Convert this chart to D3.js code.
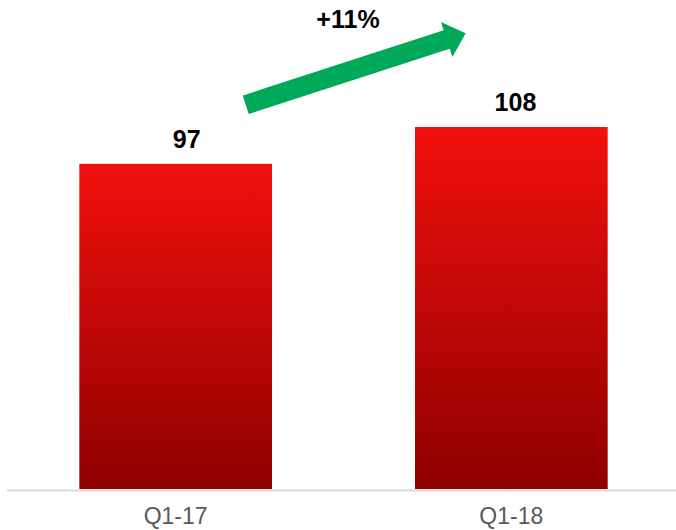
<!DOCTYPE html>
<html>
<head>
<meta charset="utf-8">
<script src="https://cdn.jsdelivr.net/npm/d3@7"></script>
<style>
  body { margin: 0; background: #fff; }
  svg { display: block; font-family: "Liberation Sans", Arial, sans-serif; }
</style>
</head>
<body>
<div id="chart"></div>
<script>
const categories = ["Q1-17", "Q1-18"];
const values = [97, 108];
const growthLabel = "+11%";

const width = 676,
  height = 530;

const svg = d3
  .select("#chart")
  .append("svg")
  .attr("width", width)
  .attr("height", height);

const defs = svg.append("defs");
const grad = defs
  .append("linearGradient")
  .attr("id", "barGrad")
  .attr("x1", 0)
  .attr("y1", 0)
  .attr("x2", 0)
  .attr("y2", 1);
grad.append("stop").attr("offset", "0%").attr("stop-color", "#f2100d");
grad.append("stop").attr("offset", "100%").attr("stop-color", "#8e0000");

const x = d3
  .scaleBand()
  .domain(categories)
  .range([8, 679])
  .paddingInner(0.426)
  .paddingOuter(0.2125);

const y = d3.scaleLinear().domain([0, 108]).range([489, 127]);

// baseline
svg
  .append("line")
  .attr("x1", 7)
  .attr("x2", width)
  .attr("y1", y(0) + 1.5)
  .attr("y2", y(0) + 1.5)
  .attr("stroke", "#d9d9d9")
  .attr("stroke-width", 2);

// bars
svg
  .append("g")
  .selectAll("rect")
  .data(values)
  .enter()
  .append("rect")
  .attr("x", (d, i) => x(categories[i]))
  .attr("y", (d) => y(d))
  .attr("width", x.bandwidth())
  .attr("height", (d) => y(0) - y(d))
  .attr("fill", "url(#barGrad)");

// value labels
svg
  .append("g")
  .selectAll("text")
  .data(values)
  .enter()
  .append("text")
  .attr("x", (d, i) => x(categories[i]) + x.bandwidth() / 2 + 25)
  .attr("y", (d) => y(d) - 16)
  .attr("text-anchor", "end")
  .style("font-size", "25px")
  .style("font-weight", "bold")
  .attr("fill", "#000")
  .text((d) => d);

// category labels
svg
  .append("g")
  .selectAll("text")
  .data(categories)
  .enter()
  .append("text")
  .attr("x", (d) => x(d) + x.bandwidth() / 2)
  .attr("y", 524)
  .attr("text-anchor", "middle")
  .style("font-size", "23px")
  .attr("fill", "#595959")
  .text((d) => d);

// growth arrow
const tail = [245.75, 104.75],
  tip = [465.7, 33.3];
const shaftW = 19.5,
  headW = 37,
  headL = 20;
const ang = Math.atan2(tip[1] - tail[1], tip[0] - tail[0]);
const len = Math.hypot(tip[0] - tail[0], tip[1] - tail[1]);
const arrowPts = [
  [0, -shaftW / 2],
  [len - headL, -shaftW / 2],
  [len - headL, -headW / 2],
  [len, 0],
  [len - headL, headW / 2],
  [len - headL, shaftW / 2],
  [0, shaftW / 2],
];
svg
  .append("polygon")
  .attr("points", arrowPts.map((p) => p.join(",")).join(" "))
  .attr(
    "transform",
    "translate(" + tail[0] + "," + tail[1] + ") rotate(" + (ang * 180) / Math.PI + ")"
  )
  .attr("fill", "#00a85a");

svg
  .append("text")
  .attr("x", 348)
  .attr("y", 28)
  .attr("text-anchor", "middle")
  .style("font-size", "25px")
  .style("font-weight", "bold")
  .attr("fill", "#000")
  .text(growthLabel);
</script>
</body>
</html>
